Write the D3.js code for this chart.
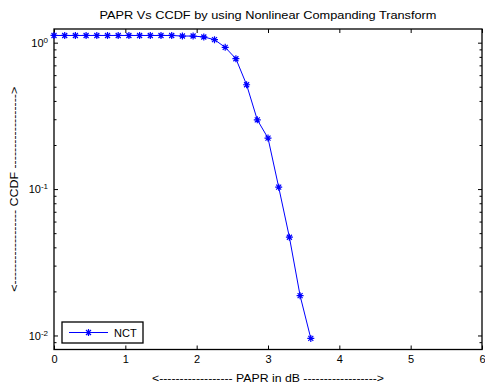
<!DOCTYPE html>
<html lang="en">
<head>
  <meta charset="UTF-8">
  <title>PAPR Vs CCDF</title>
  <style>
    body { margin: 0; background: #fff; }
    #main { width: 485px; height: 385px; }
    text { font-family: "Liberation Sans", Arial, sans-serif; }
  </style>
</head>
<body>
  <div id="main"></div>
  <script src="https://d3js.org/d3.v7.min.js"></script>
  <script>
    // data
    const papr = [0, 0.15, 0.3, 0.45, 0.6, 0.75, 0.9, 1.05, 1.2, 1.35, 1.5, 1.65, 1.8,
      1.95, 2.1, 2.25, 2.4, 2.55, 2.7, 2.85, 3.0, 3.15, 3.3, 3.45, 3.6]
    const ccdf = [1.12, 1.12, 1.12, 1.12, 1.12, 1.12, 1.12, 1.12, 1.12, 1.12, 1.12, 1.12, 1.11,
      1.11, 1.094, 1.048, 0.929, 0.777, 0.516, 0.297, 0.223, 0.103, 0.0469, 0.0187, 0.00955]
    const xTicks = [0, 1, 2, 3, 4, 5, 6]
    const yTicks = [0.01, 0.1, 1]
    const yExp = ['-2', '-1', '0']
    const seriesName = 'NCT'

    const width = 485, height = 385
    const m = { left: 54, right: 3, top: 29, bottom: 35.5 }
    const svg = d3.select('#main').append('svg')
      .attr('width', width)
      .attr('height', height)

    const x = d3.scaleLinear().domain([0, 6]).range([m.left, width - m.right])
    const y = d3.scaleLog().domain([0.00802, 1.24]).range([height - m.bottom, m.top])

    // minor log ticks
    const minor = []
    ;[0.001, 0.01, 0.1, 1].forEach(d => {
      for (let i = 2; i <= 9; i++) {
        const v = d * i
        if (v > y.domain()[0] && v < y.domain()[1]) minor.push(v)
      }
    })

    const x0 = x(0), x1 = x(6), yb = y.range()[0], yt = y.range()[1]

    // x axis bottom + top (ticks inward)
    svg.append('g')
      .attr('transform', `translate(0,${yb})`)
      .call(d3.axisBottom(x).tickValues(xTicks).tickSize(-4).tickPadding(6).tickFormat(d3.format('d')))
      .call(g => g.select('.domain').remove())
      .style('font-size', '11px')
    svg.append('g')
      .attr('transform', `translate(0,${yt})`)
      .call(d3.axisTop(x).tickValues(xTicks).tickSize(-4).tickFormat(''))
      .call(g => g.select('.domain').remove())

    // y axis left + right
    svg.append('g')
      .attr('transform', `translate(${x0},0)`)
      .call(d3.axisLeft(y).tickValues(yTicks).tickSize(-4).tickPadding(6).tickFormat(''))
      .call(g => g.select('.domain').remove())
      .style('font-size', '11px')
      .call(g => g.selectAll('.tick text').each(function (d, i) {
        const t = d3.select(this)
        t.attr('font-family', '"Liberation Sans", Arial, sans-serif')
        t.append('tspan').text('10')
        t.append('tspan').attr('dy', '-0.45em').style('font-size', '8px').text(yExp[i])
      }))
    svg.append('g')
      .attr('transform', `translate(${x0},0)`)
      .call(d3.axisLeft(y).tickValues(minor).tickSize(-2.5).tickFormat(''))
      .call(g => g.select('.domain').remove())
    svg.append('g')
      .attr('transform', `translate(${x1},0)`)
      .call(d3.axisRight(y).tickValues(yTicks).tickSize(-4).tickFormat(''))
      .call(g => g.select('.domain').remove())
    svg.append('g')
      .attr('transform', `translate(${x1},0)`)
      .call(d3.axisRight(y).tickValues(minor).tickSize(-2.5).tickFormat(''))
      .call(g => g.select('.domain').remove())

    // box
    svg.append('rect')
      .attr('x', x0).attr('y', yt)
      .attr('width', x1 - x0).attr('height', yb - yt)
      .attr('fill', 'none').attr('stroke', '#000').attr('stroke-width', 1.3)

    // series line
    const pts = papr.map((d, i) => [d, ccdf[i]])
    svg.append('path')
      .datum(pts)
      .attr('fill', 'none')
      .attr('stroke', '#0000ff')
      .attr('stroke-width', 1)
      .attr('d', d3.line().x(d => x(d[0])).y(d => y(d[1])))

    // asterisk markers
    const star = 'M-3.5,0H3.5M0,-3.5V3.5M-2.5,-2.5L2.5,2.5M-2.5,2.5L2.5,-2.5'
    svg.append('g').selectAll('path')
      .data(pts)
      .join('path')
      .attr('transform', d => `translate(${x(d[0])},${y(d[1])})`)
      .attr('d', star)
      .attr('stroke', '#0000ff')
      .attr('stroke-width', 1.2)
      .attr('fill', 'none')

    // title and labels (stretched to the widths seen in the picture)
    svg.append('text')
      .attr('x', (x0 + x1) / 2).attr('y', 19)
      .attr('text-anchor', 'middle')
      .attr('textLength', 337).attr('lengthAdjust', 'spacingAndGlyphs')
      .style('font-size', '11px')
      .text('PAPR Vs CCDF by using Nonlinear Companding Transform')
    svg.append('text')
      .attr('x', (x0 + x1) / 2).attr('y', 381.5)
      .attr('text-anchor', 'middle')
      .attr('textLength', 232).attr('lengthAdjust', 'spacingAndGlyphs')
      .style('font-size', '11px')
      .text('<------------------ PAPR in dB ------------------>')
    svg.append('text')
      .attr('transform', `translate(18,${(yt + yb) / 2}) rotate(-90)`)
      .attr('text-anchor', 'middle')
      .attr('textLength', 205).attr('lengthAdjust', 'spacingAndGlyphs')
      .style('font-size', '11px')
      .text('<------------------ CCDF ------------------>')

    // legend
    const lg = svg.append('g').attr('transform', 'translate(62,322)')
    lg.append('rect')
      .attr('width', 81).attr('height', 21)
      .attr('fill', '#fff').attr('stroke', '#000').attr('stroke-width', 1.3)
    lg.append('line')
      .attr('x1', 7).attr('x2', 46).attr('y1', 10.5).attr('y2', 10.5)
      .attr('stroke', '#0000ff')
    lg.append('path')
      .attr('transform', 'translate(26.5,10.5)')
      .attr('d', star)
      .attr('stroke', '#0000ff').attr('stroke-width', 1.2)
    lg.append('text')
      .attr('x', 52).attr('y', 14.5)
      .style('font-size', '11px')
      .text(seriesName)
  </script>
</body>
</html>
